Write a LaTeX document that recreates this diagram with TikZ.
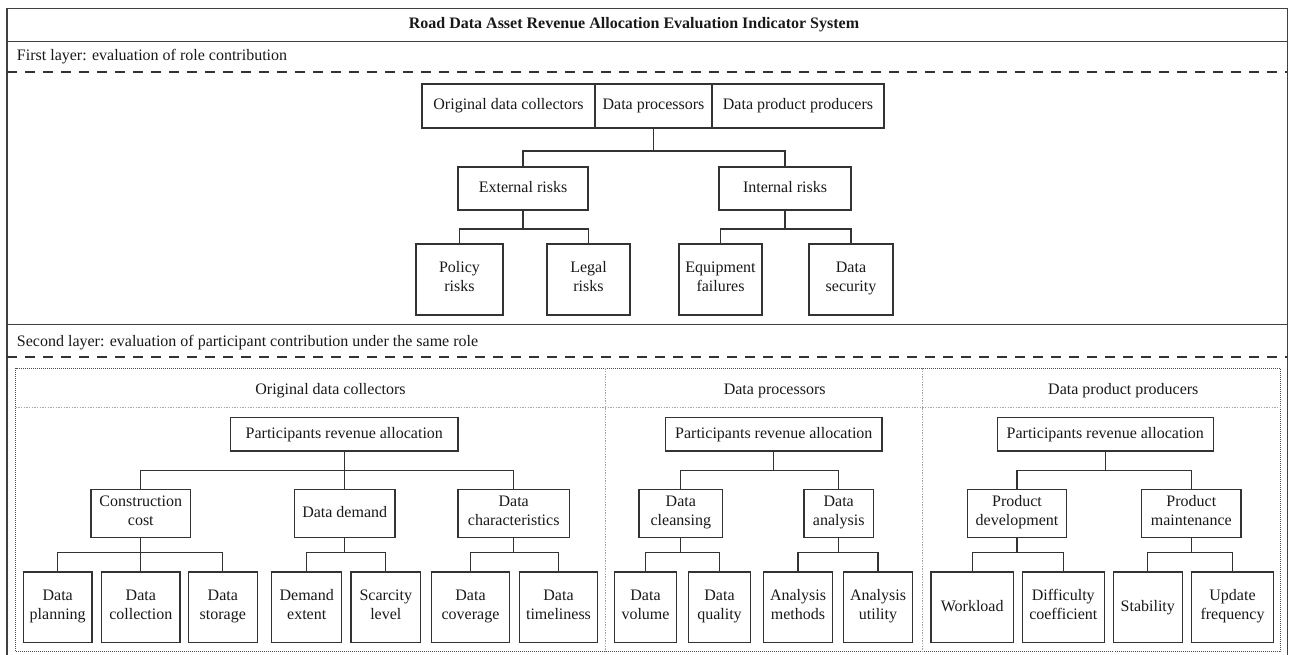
\documentclass[tikz,border=0pt]{standalone}
\usepackage{fontspec}
\setmainfont{Liberation Serif}
\usetikzlibrary{calc}
\begin{document}
\begin{tikzpicture}[x=0.75pt,y=-0.75pt,
  every node/.style={font=\fontsize{12}{14.25}\selectfont, text=black!90},
  bx/.style={draw=black!80, line width=0.95pt, align=center, inner sep=0pt, rectangle},
  sz/.style 2 args={minimum width=#1*0.75pt, minimum height=#2*0.75pt},
  conn/.style={draw=black!80, line width=0.95pt},
  frame/.style={draw=black!75, line width=1.1pt},
  dashsep/.style={draw=black!80, line width=1.4pt, dash pattern=on 7.5pt off 6pt},
  lbl/.style={anchor=base west, inner sep=0pt},
  hdr/.style={inner sep=0pt},
  dotbox/.style={draw=black!70, line width=0.6pt, dash pattern=on 0.6pt off 0.9pt},
  lightdot/.style={draw=black!35, line width=0.5pt, dash pattern=on 1pt off 1pt}
]
\useasboundingbox (0,0) rectangle (1292,654);

% frame and separators
\draw[frame] (7,656) -- (7,8.3) -- (1287.3,8.3) -- (1287.3,656);
\draw[frame] (7,41.3) -- (1287.3,41.3);
\draw[frame] (7,324.3) -- (1287.3,324.3);
\draw[dashsep] (7,72) -- (1287.3,72);
\draw[dashsep] (7,356.7) -- (1287.3,356.7);

\node[font=\fontsize{12}{14}\selectfont\bfseries, inner sep=0pt] (title) at (634,24.8) {Road Data Asset Revenue Allocation Evaluation Indicator System};
\node[lbl] (l1lab) at (16.7,60) {First layer: evaluation of role contribution};
\node[lbl] (l2lab) at (16.7,346) {Second layer: evaluation of participant contribution under the same role};

% ===== first layer =====
\node[bx, sz={173}{44}] (oc1) at (508.5,106) {Original data collectors};
\node[bx, sz={117}{44}] (dp1) at (653.5,106) {Data processors\strut};
\node[bx, sz={172}{44}] (pp1) at (798,106) {Data product producers};

\node[bx, sz={130}{43}] (ext) at (523,188.5) {External risks\strut};
\node[bx, sz={132}{43}] (int) at (785,188.5) {Internal risks\strut};

\node[bx, sz={87}{71}] (pol) at (459.5,279.5) {Policy\\risks\strut};
\node[bx, sz={83}{71}] (leg) at (588.5,279.5) {Legal\\risks\strut};
\node[bx, sz={83}{71}] (equ) at (720.5,279.5) {Equipment\\failures\strut};
\node[bx, sz={84}{71}] (sec) at (851,279.5) {Data\\security\strut};

\foreach \c in {ext,int} \draw[conn] (dp1.south) -- (dp1.south |- 0,151) -| (\c.north);
\foreach \c in {pol,leg} \draw[conn] (ext.south) -- (ext.south |- 0,229) -| (\c.north);
\foreach \c in {equ,sec} \draw[conn] (int.south) -- (int.south |- 0,229) -| (\c.north);

% ===== second layer =====
\draw[dotbox] (15.7,368.3) rectangle (1280.7,651.5);
\draw[lightdot] (15.7,407.7) -- (1280.7,407.7);
\draw[lightdot] (605.7,368.3) -- (605.7,651.5);
\draw[lightdot] (922.7,368.3) -- (922.7,651.5);

\node[hdr] (h1) at (330.5,391) {Original data collectors\strut};
\node[hdr] (h2) at (774.7,391) {Data processors\strut};
\node[hdr] (h3) at (1123.3,391) {Data product producers\strut};

\node[bx, sz={227.3}{33.3}] (pra1) at (344.3,434.3) {Participants revenue allocation\strut};
\node[bx, sz={216.3}{33.3}] (pra2) at (773.8,434.3) {Participants revenue allocation\strut};
\node[bx, sz={216}{33.3}] (pra3) at (1105.3,434.3) {Participants revenue allocation\strut};

\node[bx, sz={99.7}{48.2}] (cc) at (140.8,513.6) {Construction\\cost\strut};
\node[bx, sz={100.7}{48.2}] (dd) at (344.7,513.6) {Data demand\strut};
\node[bx, sz={111.3}{48.2}] (dc) at (513.7,513.6) {Data\\characteristics\strut};
\node[bx, sz={83.7}{48.2}] (cl) at (680.8,513.6) {Data\\cleansing\strut};
\node[bx, sz={69.3}{48.2}] (da) at (838.7,513.6) {Data\\analysis\strut};
\node[bx, sz={99.4}{48.2}] (pd) at (1017,513.6) {Product\\development\strut};
\node[bx, sz={99.3}{48.2}] (pm) at (1191.3,513.6) {Product\\maintenance\strut};

\node[bx, sz={68.7}{70.3}] (lf1) at (57.7,607.2) {Data\\planning\strut};
\node[bx, sz={78.3}{70.3}] (lf2) at (140.8,607.2) {Data\\collection\strut};
\node[bx, sz={69}{70.3}] (lf3) at (222.8,607.2) {Data\\storage\strut};
\node[bx, sz={70}{70.3}] (lf4) at (306.7,607.2) {Demand\\extent\strut};
\node[bx, sz={69.7}{70.3}] (lf5) at (385.8,607.2) {Scarcity\\level\strut};
\node[bx, sz={77.6}{70.3}] (lf6) at (470.5,607.2) {Data\\coverage\strut};
\node[bx, sz={78.4}{70.3}] (lf7) at (558.5,607.2) {Data\\timeliness\strut};
\node[bx, sz={62.4}{70.3}] (lf8) at (645.5,607.2) {Data\\volume\strut};
\node[bx, sz={62.4}{70.3}] (lf9) at (719.5,607.2) {Data\\quality\strut};
\node[bx, sz={69.3}{70.3}] (lf10) at (798,607.2) {Analysis\\methods\strut};
\node[bx, sz={68.8}{70.3}] (lf11) at (878,607.2) {Analysis\\utility\strut};
\node[bx, sz={82.3}{70.3}] (lf12) at (972.2,607.2) {Workload\strut};
\node[bx, sz={82}{70.3}] (lf13) at (1063.3,607.2) {Difficulty\\coefficient\strut};
\node[bx, sz={69}{70.3}] (lf14) at (1147.8,607.2) {Stability\strut};
\node[bx, sz={81.6}{70.3}] (lf15) at (1232.5,607.2) {Update\\frequency\strut};

\foreach \c in {cc,dd,dc} \draw[conn] (pra1.south) -- (pra1.south |- 0,470.7) -| (\c.north);
\foreach \c in {cl,da} \draw[conn] (pra2.south) -- (pra2.south |- 0,470.7) -| (\c.north);
\foreach \c in {pd,pm} \draw[conn] (pra3.south) -- (pra3.south |- 0,470.7) -| (\c.north);

\foreach \p/\c in {cc/lf1,cc/lf2,cc/lf3,dd/lf4,dd/lf5,dc/lf6,dc/lf7,cl/lf8,cl/lf9,da/lf10,da/lf11,pd/lf12,pd/lf13,pm/lf14,pm/lf15}
  \draw[conn] (\p.south) -- (\p.south |- 0,552.7) -| (\c.north);

\end{tikzpicture}
\end{document}
